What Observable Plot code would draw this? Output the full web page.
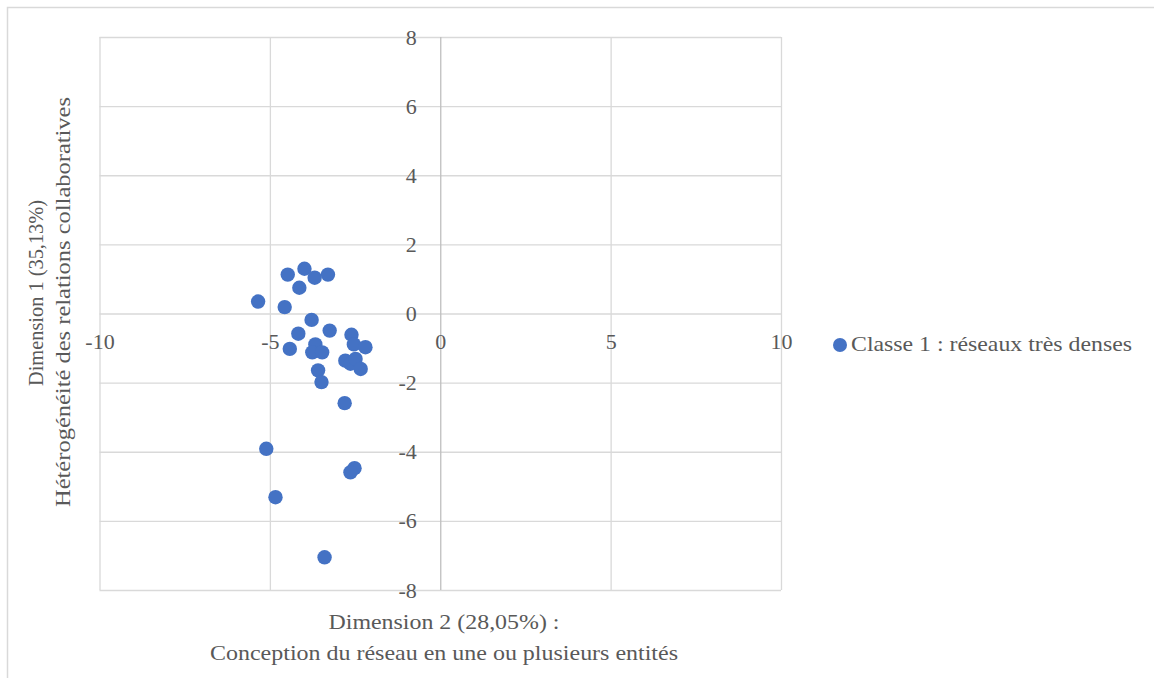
<!DOCTYPE html>
<html>
<head>
<meta charset="utf-8">
<script src="https://cdn.jsdelivr.net/npm/d3@7"></script>
<script src="https://cdn.jsdelivr.net/npm/@observablehq/plot@0.6"></script>
<style>
  html, body { margin: 0; padding: 0; background: #fff; }
  #chart { width: 1154px; height: 678px; overflow: hidden; }
</style>
</head>
<body>
<div id="chart"></div>
<script>
// Data: Dimension 2 (x) and Dimension 1 (y) coordinates
const dim2 = [-5.36, -4.58, -4.49, -4.00, -4.15, -3.70, -3.31, -3.79, -4.18, -4.43,
              -3.26, -3.68, -3.77, -3.48, -3.60, -3.50, -2.62, -2.55, -2.21, -2.80,
              -2.65, -2.50, -2.35, -2.82, -5.12, -2.53, -2.65, -4.85, -3.41];
const dim1 = [0.36, 0.20, 1.14, 1.31, 0.76, 1.05, 1.14, -0.17, -0.57, -1.01,
              -0.48, -0.88, -1.11, -1.11, -1.63, -1.97, -0.60, -0.88, -0.96, -1.35,
              -1.44, -1.30, -1.59, -2.58, -3.90, -4.46, -4.58, -5.30, -7.04];
const xTicks = [-10, -5, 0, 5, 10];
const yTicks = [-8, -6, -4, -2, 0, 2, 4, 6, 8];
const seriesName = "Classe 1 : réseaux très denses";
const xTitle = ["Dimension 2 (28,05%) :", "Conception du réseau en une ou plusieurs entités"];
const yTitle = ["Dimension 1 (35,13%)", "Hétérogénéité des relations collaboratives"];

const points = dim2.map((x, i) => ({x, y: dim1[i]}));
const blue = "#4472C4";
const textColor = "#595959";
const font = "'Liberation Serif', 'Times New Roman', serif";
const fs = 22;

const svg = Plot.plot({
  width: 1154,
  height: 678,
  marginLeft: 99.5,
  marginRight: 373,
  marginTop: 37,
  marginBottom: 88,
  x: {domain: [-10, 10], axis: null},
  y: {domain: [-8, 8], axis: null},
  style: {fontFamily: font, color: textColor, background: "white", overflow: "visible"},
  marks: [
    Plot.ruleX(xTicks.filter(d => d !== 0), {x: d => d, stroke: "#d9d9d9", strokeWidth: 1.3}),
    Plot.ruleY(yTicks, {y: d => d, stroke: "#d9d9d9", strokeWidth: 1.3}),
    Plot.ruleX([0], {x: d => d, stroke: "#bfbfbf", strokeWidth: 1.3}),
    Plot.dot(points, {x: "x", y: "y", r: 7.2, fill: blue, stroke: "none"}),
    Plot.text(xTicks, {x: d => d, y: 0, dy: 28, text: d => String(d), fontSize: fs, fill: textColor, fontFamily: font}),
    Plot.text(yTicks, {x: 0, y: d => d, dx: -24, textAnchor: "end", text: d => String(d), fontSize: fs, fill: textColor, fontFamily: font})
  ]
});

const s = d3.select(svg);
// outer chart border
s.insert("rect", ":first-child")
  .attr("x", 7.5).attr("y", 7.5).attr("width", 1170).attr("height", 700)
  .attr("fill", "none").attr("stroke", "#d9d9d9").attr("stroke-width", 1.5);

function label(x, y, txt, len, rotate, anchor) {
  const t = s.append("text")
    .attr("transform", `translate(${x},${y})` + (rotate ? " rotate(-90)" : ""))
    .attr("text-anchor", anchor || "middle")
    .attr("dominant-baseline", "middle")
    .attr("font-size", fs).attr("fill", textColor).attr("font-family", font)
    .text(txt);
  if (len) t.attr("textLength", len).attr("lengthAdjust", "spacingAndGlyphs");
  return t;
}

// x-axis title
label(444, 624, xTitle[0], 231);
label(444, 655, xTitle[1], 468);
// y-axis title (rotated)
label(38, 293, yTitle[0], 186, true);
label(65, 302, yTitle[1], 410, true);

// legend
s.append("circle").attr("cx", 840).attr("cy", 345).attr("r", 7).attr("fill", blue);
label(851, 346, seriesName, 281, false, "start");

document.getElementById("chart").appendChild(svg);
</script>
</body>
</html>
